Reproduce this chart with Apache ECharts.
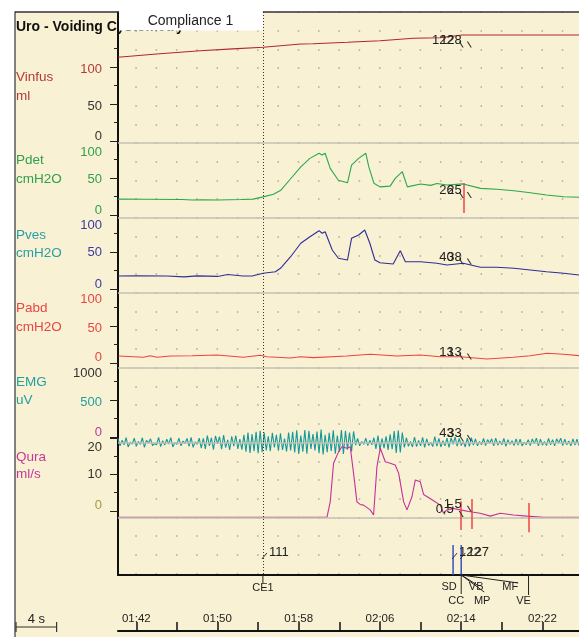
<!DOCTYPE html>
<html>
<head>
<meta charset="utf-8">
<script src="https://cdn.jsdelivr.net/npm/echarts@6/dist/echarts.min.js"></script>
<style>
  html, body { margin: 0; padding: 0; background: #fff; }
  #chart { width: 579px; height: 637px; }
</style>
</head>
<body>
<div id="chart"></div>
<script>
// time window (s)
const tMin = 100.2
const tMax = 145.6

// Vinfus (ml)
const vinfusT = [100.2, 104.0, 108.3, 111.5, 114.5, 118.2, 119.4, 122.8, 126.0, 129.3, 131.9, 134.1, 145.6]
const vinfusV = [113.1, 117.5, 122.0, 124.5, 126.6, 131.0, 131.5, 133.4, 135.5, 138.8, 139.6, 143.2, 143.2]

// Pdet (cmH2O)
const pdetT = [100.2, 103.0, 106.5, 107.5, 108.5, 110.0, 112.3, 113.5, 114.5, 115.5, 116.2, 117.2, 118.2, 119.1,
  120.0, 120.3, 120.6, 121.1, 121.9, 122.8, 123.2, 123.9, 124.6, 124.9, 125.4, 126.0, 127.0, 127.5, 128.2, 128.7,
  130.0, 131.0, 131.6, 132.6, 134.2, 135.9, 137.5, 139.2, 140.8, 142.4, 144.1, 145.6]
const pdetV = [21.5, 21.2, 21.0, 20.3, 20.6, 20.2, 21.0, 21.5, 24.5, 28, 33, 49, 65, 76.5,
  83.5, 81, 83.5, 63, 47, 43.5, 67.5, 76.5, 83.5, 65, 43, 38, 39, 49.5, 58.5, 38,
  42, 40, 42.5, 40.5, 42, 36, 34.7, 32.8, 30, 27, 24.7, 23.9]

// Pves (cmH2O)
const pvesT = [100.2, 102.0, 105.0, 106.7, 108.0, 110.0, 111.0, 112.5, 113.5, 114.5, 115.7, 116.2, 117.2, 118.2,
  119.1, 120.0, 120.3, 120.6, 121.3, 121.9, 122.8, 123.2, 123.9, 124.5, 125.0, 125.5, 126.0, 127.3, 128.0, 128.5,
  130.0, 131.6, 132.6, 134.2, 135.9, 137.5, 139.2, 140.8, 142.4, 144.1, 145.6]
const pvesV = [17.6, 17.8, 17.6, 16.4, 17.8, 17.0, 19.5, 17.6, 17.8, 21.2, 23.4, 28, 43.6, 61.8,
  70.7, 78.8, 75.3, 77.4, 52.7, 41.5, 39.2, 68.5, 73, 79.7, 61.8, 39.2, 35.5, 33.8, 51.8, 36.9,
  36.9, 34.7, 32.4, 34.7, 29.3, 29.3, 28, 25.7, 23.4, 21.2, 18.9]

// Pabd (cmH2O)
const pabdT = [100.26, 102.72, 103.38, 104.04, 105.35, 107.5, 109.95, 112.57, 114.21, 114.87, 117.16, 118.15, 119.46,
  122.75, 125.04, 127.67, 129.97, 131.94, 133.91, 136.53, 139.15, 140.8, 142.44, 144.08, 145.62]
const pabdV = [9.5, 7.7, 9.9, 7.7, 9.5, 9.8, 10.8, 7.7, 10.4, 8.5, 6.8, 8.5, 7.2,
  9.5, 11.8, 9.5, 10.8, 8.5, 8.5, 5.4, 7.7, 9.9, 13.1, 11.8, 9.9]

// EMG (uV), one sample every 0.2 s from tMin
const emgStep = 0.2
const emgV = [
  -20, -120, -45, -105, -10, -135, -70, -95, -15, -125,
  -60, -100, -10, -140, -45, -80, -25, -115, -90, -105,
  -5, -130, -50, -110, -30, -95, -10, -135, -75, -100,
  -15, -120, -55, -85, -20, -125, -5, -140, -65, -100,
  -15,
  -150, -20, -160, 20, -120, -10, -170, 15, -90, 5,
  -165, 25, -145, -40, -175, 10, -125, 20, -160, -30,
  -170, 30,
  -200, 60, -215, 40, -190, 70, -220, 85, -205,
  60, -180, 10, -190, 55, -140, 30, -185, 50, -175, -20, -195, 60, -180,
  70, -210, 90, -230, 20, -200, 95, -225, 85, -160,
  40, -180, 75, -220, 100, -235, 30, -205, 55, -190,
  90, -225, 20, -200, 95, -230, 85, -170, 60, -195,
  75,
  -110, -20, -120, -60, -100, -15, -115, -45, -105, -10,
  -160, 20, -170, -20, -150, 10, -175, 35, -165,
  80, -215, 90, -210, 60,
  -140, -10, -125, -60, -135, 0, -130, -45, -120, -5,
  -140, -25, -115, -70, -130, 5, -125, -20, -135, -50,
  -120, -15, -140, -10, -100, 0, -125, -20, -115, -60,
  -135, -15, -125, -10,
  -110, -25, -120, -60, -105, -20, -115, -35, -85, -25,
  -120, -15, -110, -55, -105, -20, -125, -35, -100, -50,
  -115, -25, -110, -30, -120, -70, -105, -35, -115, -25,
  -90, -15, -120, -30, -110, -60, -115, -20, -105, -35,
  -120, -25, -80, -15, -115, -30, -105, -55, -120, -25,
  -110, -30, -115
]

// Qura (ml/s)
const quraT = [100.2, 120.78, 121.1, 121.43, 121.92, 122.26, 122.75, 123.07, 123.4, 123.73, 124.05, 124.38, 125.04,
  125.37, 125.7, 126.03, 126.52, 127.01, 127.5, 127.84, 128.33, 128.66, 129.15, 129.48, 129.97, 130.3, 131.28,
  131.94, 132.26, 132.6, 133.25, 133.9, 134.89, 135.87, 136.86, 137.84, 139.15, 140.47, 142.1, 145.6]
const quraV = [-1.7, -1.7, 2.5, 13.1, 16.2, 17.6, 17.2, 17.6, 10.3, 2.5, 1.8, 1.6, 0.3,
  -1.1, 12.1, 17.2, 13.5, 13.1, 12.6, 10.3, 2.5, 0.3, 3.9, 8.5, 8.0, 4.5, 2.8,
  1.6, -0.6, 0.3, 0.7, 0.3, -0.2, -0.6, -1.4, -0.6, -1.1, -1.4, -1.7, -1.7]

// axis tick labels
const vinfusTicks = [0, 50, 100]
const vinfusMinor = [25, 75, 125]
const pTicks = [0, 50, 100]
const pMinor = [25, 75]
const emgTicks = [0, 500, 1000]
const emgMinor = [250, 750]
const quraTicks = [0, 10, 20]
const quraMinor = [5, 15]
const timeTicks = [102, 106, 110, 114, 118, 122, 126, 130, 134, 138, 142]
const timeLabels = [102, 110, 118, 126, 134, 142]

// events
const eventNames = ['CE1', 'SD', 'CC', 'VB', 'MP', 'MF', 'VE']
const eventTimes = [114.47, 133.2, 134.0, 134.0, 134.0, 134.0, 140.63]
const volNotes = ['111', '122', '127']
const volNoteTimes = [114.47, 133.2, 134.0]

// cursor read-outs
const cursorTimes = [134.0, 134.8]
const vinfusNotes = ['122', '128']
const vinfusNoteAt = [130.4, 130.4]
const pdetNotes = ['26', '25']
const pdetNoteAt = [27, 27]
const pvesNotes = ['40', '38']
const pvesNoteAt = [37.2, 37.2]
const pabdNotes = ['13', '13']
const pabdNoteAt = [8.8, 8.8]
const emgNotes = ['43', '33']
const emgNoteAt = [-13.5, -13.5]
const quraNotes = ['0,5', '1,5']
const quraNoteAt = [-0.8, 0.6]

// red flow / pressure markers
const pdetMarkT = [134.27]
const pdetMarkLo = [2.7]
const pdetMarkHi = [43.2]
const quraMarkT = [134.0, 135.0, 140.63]
const quraMarkLo = [-5.2, -4.9, -5.8]
const quraMarkHi = [2.7, 3.3, 2.2]

const FONT = '"Liberation Sans", Arial, sans-serif'
const plotLeft = 118
const plotTop = 12
const plotBottom = 575
const pxPerSec = (579 - plotLeft) / (tMax - tMin)
const rowPx = 18.72
const sepRows = [7, 11, 15, 19, 23, 27]

const zip = (t, v) => t.map((x, i) => [x, v[i]])
const emgData = emgV.map((v, i) => [tMin + i * emgStep, v])

function markers(times, lo, hi) {
  return {
    silent: true,
    symbol: ['none', 'none'],
    label: { show: false },
    lineStyle: { color: '#ee4444', width: 1.5, type: 'solid' },
    data: times.map((t, i) => [{ coord: [t, lo[i]] }, { coord: [t, hi[i]] }])
  }
}

function notes(texts, at) {
  return {
    silent: true,
    symbol: 'path://M0,0L2,0L8,7L6,7Z',
    symbolSize: [5, 6],
    itemStyle: { color: '#333' },
    label: {
      show: true, position: 'left', distance: 5, offset: [0, -4.5],
      color: '#222', fontSize: 13, fontFamily: FONT,
      formatter: p => p.name
    },
    data: texts.map((s, i) => ({ name: s, coord: [cursorTimes[i], at[i]] }))
  }
}

const channels = [
  { name: 'Vinfus', unit: 'ml', data: zip(vinfusT, vinfusV), ticks: vinfusTicks, minor: vinfusMinor,
    zeroY: 141, ppu: 0.74, min: -4, max: 174.3, color: '#b0282e', nameColor: '#b33a3a', nameY: [77, 96],
    tickColors: ['#333', '#333', '#b33a3a'], shift: [-5, 2, 2], mp: notes(vinfusNotes, vinfusNoteAt) },
  { name: 'Pdet', unit: 'cmH2O', data: zip(pdetT, pdetV), ticks: pTicks, minor: pMinor,
    zeroY: 215, ppu: 0.74, min: -6, max: 100, color: '#2aa84c', nameColor: '#2fa04e', nameY: [160, 179],
    tickColors: ['#2fa04e', '#2fa04e', '#2fa04e'], shift: [-5, 1, 11], mp: notes(pdetNotes, pdetNoteAt),
    ml: markers(pdetMarkT, pdetMarkLo, pdetMarkHi) },
  { name: 'Pves', unit: 'cmH2O', data: zip(pvesT, pvesV), ticks: pTicks, minor: pMinor,
    zeroY: 289, ppu: 0.74, min: -6, max: 100, color: '#2e2e98', nameColor: '#2a9ea6', nameY: [235, 253],
    tickColors: ['#3a3aa0', '#3a3aa0', '#3a3aa0'], shift: [-5, 0, 10], mp: notes(pvesNotes, pvesNoteAt) },
  { name: 'Pabd', unit: 'cmH2O', data: zip(pabdT, pabdV), ticks: pTicks, minor: pMinor,
    zeroY: 363, ppu: 0.74, min: -6, max: 100, color: '#ee4444', nameColor: '#e84646', nameY: [308, 327],
    tickColors: ['#e84646', '#e84646', '#e84646'], shift: [-6, 2, 10], mp: notes(pabdNotes, pabdNoteAt) },
  { name: 'EMG', unit: 'uV', data: emgData, ticks: emgTicks, minor: emgMinor,
    zeroY: 437, ppu: 0.074, min: -260, max: 1000, color: '#14999a', nameColor: '#22a0a0', nameY: [382, 400],
    tickColors: ['#c0389c', '#22a0a0', '#333'], shift: [-5, 2, 10], mp: notes(emgNotes, emgNoteAt) },
  { name: 'Qura', unit: 'ml/s', data: zip(quraT, quraV), ticks: quraTicks, minor: quraMinor,
    zeroY: 511, ppu: 3.65, min: -7, max: 20, color: '#c4309a', nameColor: '#c8389c', nameY: [457, 474],
    tickColors: ['#a39a3c', '#333', '#333'], shift: [-6, 0, 9], mp: notes(quraNotes, quraNoteAt),
    ml: markers(quraMarkT, quraMarkLo, quraMarkHi) }
]

const n = channels.length
const grids = [{ left: plotLeft, right: 0, top: plotTop, height: plotBottom - plotTop }]
const xAxes = [{
  type: 'value', gridIndex: 0, min: tMin, max: tMax,
  axisLine: { show: true, onZero: false, lineStyle: { color: '#111', width: 2 } },
  axisTick: { show: false }, axisLabel: { show: false }, splitLine: { show: false }
}]
const yAxes = [{
  type: 'value', gridIndex: 0, min: 0, max: (plotBottom - plotTop) / rowPx, inverse: true, interval: 1,
  axisLine: { show: true, onZero: false, lineStyle: { color: '#111', width: 2 } },
  axisTick: { show: false }, axisLabel: { show: false },
  splitLine: { show: true, lineStyle: { color: '#aaa69a', width: 1.5, type: [1.5, pxPerSec * 2 - 1.5], dashOffset: pxPerSec * 2 - 17.3 } }
}]
const minorAxes = []
const series = [{
  type: 'line', xAxisIndex: 0, yAxisIndex: 0, data: [], silent: true,
  markLine: {
    silent: true, symbol: ['none', 'none'], label: { show: false },
    data: sepRows.map(r => ({ yAxis: r, lineStyle: { color: '#c3c0b6', width: 1.5, type: 'solid' } }))
      .concat([{ xAxis: eventTimes[0], lineStyle: { color: '#333', width: 1, type: [1, 2] } }])
  }
}]

channels.forEach((ch, i) => {
  const gi = i + 1
  grids.push({ left: plotLeft, right: 0, top: ch.zeroY - ch.max * ch.ppu, height: (ch.max - ch.min) * ch.ppu })
  xAxes.push({ type: 'value', gridIndex: gi, min: tMin, max: tMax, show: false })
  const rich = {}
  ch.ticks.forEach((v, k) => {
    const s = ch.shift[k]
    rich['s' + k] = {
      color: ch.tickColors[k], fontSize: 13, fontFamily: FONT,
      padding: s >= 0 ? [2 * s, 0, 0, 0] : [0, 0, -2 * s, 0]
    }
  })
  yAxes.push({
    type: 'value', gridIndex: gi, min: ch.min, max: ch.max, position: 'left',
    axisLine: { show: false, onZero: false },
    axisTick: { show: true, customValues: ch.ticks, length: 8, lineStyle: { color: '#222', width: 1 } },
    axisLabel: {
      show: true, customValues: ch.ticks, margin: 16, rich: rich,
      formatter: v => '{s' + ch.ticks.indexOf(Math.round(v)) + '|' + Math.round(v) + '}'
    },
    splitLine: { show: false }
  })
  minorAxes.push({
    type: 'value', gridIndex: gi, min: ch.min, max: ch.max, position: 'left',
    axisLine: { show: false, onZero: false },
    axisTick: { show: true, customValues: ch.minor, length: 4, lineStyle: { color: '#222', width: 1 } },
    axisLabel: { show: false }, splitLine: { show: false }
  })
  const s = {
    type: 'line', name: ch.name, xAxisIndex: gi, yAxisIndex: gi, data: ch.data,
    showSymbol: false, symbol: 'none', clip: false, silent: true,
    lineStyle: { color: ch.color, width: 1.1 },
    markPoint: ch.mp
  }
  if (ch.ml) s.markLine = ch.ml
  series.push(s)
})
minorAxes.forEach(a => yAxes.push(a))

// time axis
grids.push({ left: plotLeft, right: 0, top: 600, height: 31 })
xAxes.push({
  type: 'value', gridIndex: n + 1, min: tMin, max: tMax, position: 'bottom',
  axisLine: { show: true, onZero: false, lineStyle: { color: '#111', width: 2 } },
  axisTick: { show: true, inside: true, length: 9, customValues: timeTicks, lineStyle: { color: '#111', width: 1.5 } },
  axisLabel: {
    show: true, inside: true, margin: 6, customValues: timeLabels, color: '#222', fontSize: 11.5, fontFamily: FONT,
    formatter: v => {
      const m = Math.floor(v / 60), sec = Math.round(v - m * 60)
      return String(m).padStart(2, '0') + ':' + String(sec).padStart(2, '0')
    }
  },
  splitLine: { show: false }
})
yAxes.push({ type: 'value', gridIndex: n + 1, show: false, min: 0, max: 1 })

// event marks below the plot
const eventDraw = {
  CE1: { tick: 8, label: [0, 13] },
  SD: { blue: 30, label: [-4, 12] },
  CC: { blue: 30, tick: 19, label: [-5, 26] },
  VB: { lead: [16, 10], label: [15, 12] },
  MP: { lead: [23, 17], label: [21, 26] },
  MF: { lead: [57, 8], label: [49, 12] },
  VE: { tick: 20, label: [-5, 26] }
}
series.push({
  type: 'custom', xAxisIndex: 0, yAxisIndex: 0, silent: true, clip: false,
  data: eventTimes.map(t => [t, 0]),
  renderItem: (params, api) => {
    const name = eventNames[params.dataIndex]
    const d = eventDraw[name]
    const x = api.coord([api.value(0), 0])[0]
    const yb = params.coordSys.y + params.coordSys.height
    const kids = []
    if (d.blue) kids.push({ type: 'line', shape: { x1: x, y1: yb - d.blue, x2: x, y2: yb }, style: { stroke: '#3f4fc4', lineWidth: 1.5 } })
    if (d.tick) kids.push({ type: 'line', shape: { x1: x, y1: yb, x2: x, y2: yb + d.tick }, style: { stroke: '#222', lineWidth: 1 } })
    if (d.lead) kids.push({ type: 'line', shape: { x1: x, y1: yb, x2: x + d.lead[0], y2: yb + d.lead[1] }, style: { stroke: '#222', lineWidth: 1 } })
    kids.push({
      type: 'text', x: x + d.label[0], y: yb + d.label[1],
      style: { text: name, fill: '#222', font: '11px ' + FONT, align: 'center', verticalAlign: 'middle' }
    })
    return { type: 'group', children: kids }
  }
})
series.push({
  type: 'custom', xAxisIndex: 0, yAxisIndex: 0, silent: true, clip: false,
  data: volNoteTimes.map(t => [t, 0]),
  renderItem: (params, api) => {
    const x = api.coord([api.value(0), 0])[0]
    const yb = params.coordSys.y + params.coordSys.height
    return {
      type: 'group', children: [
        { type: 'line', shape: { x1: x - 1, y1: yb - 16, x2: x + 4, y2: yb - 22 }, style: { stroke: '#333', lineWidth: 1 } },
        { type: 'text', x: x + 6, y: yb - 23, style: { text: volNotes[params.dataIndex], fill: '#222', font: '13px ' + FONT, align: 'left', verticalAlign: 'middle' } }
      ]
    }
  }
})

const ce1X = plotLeft + (eventTimes[0] - tMin) * pxPerSec
const graphics = [
  { type: 'rect', z: 50, shape: { x: 0, y: 0, width: 579, height: 11.5 }, style: { fill: '#fff' } },
  { type: 'rect', z: 50, shape: { x: 0, y: 0, width: 15, height: 637 }, style: { fill: '#fff' } },
  { type: 'line', z: 51, shape: { x1: 15, y1: 11.5, x2: 15, y2: 637 }, style: { stroke: '#333', lineWidth: 1.2 } },
  { type: 'line', z: 51, shape: { x1: 15, y1: 12, x2: 579, y2: 12 }, style: { stroke: '#333', lineWidth: 1.5 } },
  { type: 'text', z: 52, x: 16, y: 27, style: { text: 'Uro - Voiding Cystometry', fill: '#111', font: 'bold 14px ' + FONT, verticalAlign: 'middle' } },
  { type: 'rect', z: 53, shape: { x: plotLeft + 1, y: 10.5, width: ce1X - plotLeft - 1, height: 20 }, style: { fill: '#fff' } },
  { type: 'text', z: 54, x: (plotLeft + ce1X) / 2, y: 21, style: { text: 'Compliance 1', fill: '#222', font: '14px ' + FONT, align: 'center', verticalAlign: 'middle' } },
  // 4 s scale bar
  { type: 'line', z: 51, shape: { x1: 16, y1: 627, x2: 16 + 4 * pxPerSec, y2: 627 }, style: { stroke: '#333', lineWidth: 1.2 } },
  { type: 'line', z: 51, shape: { x1: 16, y1: 622, x2: 16, y2: 632 }, style: { stroke: '#333', lineWidth: 1.2 } },
  { type: 'line', z: 51, shape: { x1: 16 + 4 * pxPerSec, y1: 622, x2: 16 + 4 * pxPerSec, y2: 632 }, style: { stroke: '#333', lineWidth: 1.2 } },
  { type: 'text', z: 51, x: 16 + 2 * pxPerSec, y: 619, style: { text: '4 s', fill: '#222', font: '13px ' + FONT, align: 'center', verticalAlign: 'middle' } }
]
channels.forEach(ch => {
  graphics.push({ type: 'text', z: 51, x: 16, y: ch.nameY[0], style: { text: ch.name, fill: ch.nameColor, font: '13.5px ' + FONT, verticalAlign: 'middle' } })
  graphics.push({ type: 'text', z: 51, x: 16, y: ch.nameY[1], style: { text: ch.unit, fill: ch.nameColor, font: '13.5px ' + FONT, verticalAlign: 'middle' } })
})

const chart = echarts.init(document.getElementById('chart'))
chart.setOption({
  animation: false,
  backgroundColor: '#f9f1d3',
  grid: grids,
  xAxis: xAxes,
  yAxis: yAxes,
  series: series,
  graphic: { elements: graphics }
})
</script>
</body>
</html>
